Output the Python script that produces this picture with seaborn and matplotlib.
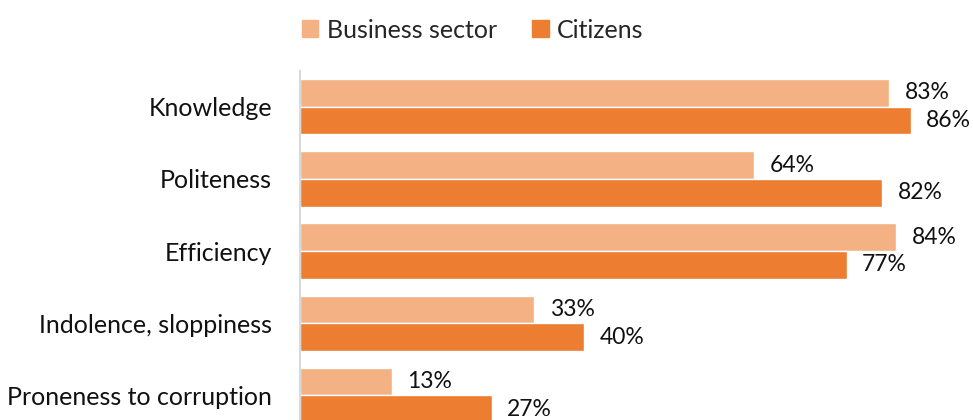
import matplotlib
matplotlib.use("Agg")
import matplotlib.pyplot as plt
import seaborn as sns
import pandas as pd

categories = ["Knowledge", "Politeness", "Efficiency", "Indolence, sloppiness", "Proneness to corruption"]
business_sector = [83, 64, 84, 33, 13]
citizens = [86, 82, 77, 40, 27]
series_names = ["Business sector", "Citizens"]
colors = ["#F4B183", "#ED7D31"]

df = pd.DataFrame({
    "category": categories * 2,
    "value": business_sector + citizens,
    "group": [series_names[0]] * len(categories) + [series_names[1]] * len(categories),
})

sns.set_style("white")
plt.rcParams["font.family"] = ["Lato", "DejaVu Sans"]

fig = plt.figure(figsize=(9.73, 4.2), dpi=100)
# axes runs past the bottom edge, the original picture is cropped there
ax = fig.add_axes([300 / 973, 1 - 431.5 / 420, 673 / 973, 360.8 / 420])

sns.barplot(data=df, x="value", y="category", hue="group", orient="h",
            palette=colors, width=0.765, saturation=1, ax=ax, legend=False)

ax.set_xlim(0, 94.8)
ax.set_ylim(len(categories) - 0.5, -0.5)
for cont in ax.containers:
    ax.bar_label(cont, fmt="%d%%", padding=11, fontsize=16.5, color="#111111", clip_on=False)

for s in ["top", "right", "bottom"]:
    ax.spines[s].set_visible(False)
ax.spines["left"].set_color("#D9D9D9")
ax.spines["left"].set_linewidth(1.5)
ax.set_xticks([])
ax.set_xlabel("")
ax.set_ylabel("")
ax.tick_params(axis="y", length=0, pad=20, labelsize=18, labelcolor="#111111")

handles = [plt.Rectangle((0, 0), 1, 1, color=c) for c in colors]
fig.legend(handles, series_names, loc="center", bbox_to_anchor=(473 / 973, 1 - 30 / 420),
           ncol=2, frameon=False, fontsize=18, handlelength=0.65, handleheight=0.65,
           handletextpad=0.35, columnspacing=1.4)

plt.savefig("out.png", dpi=100)
